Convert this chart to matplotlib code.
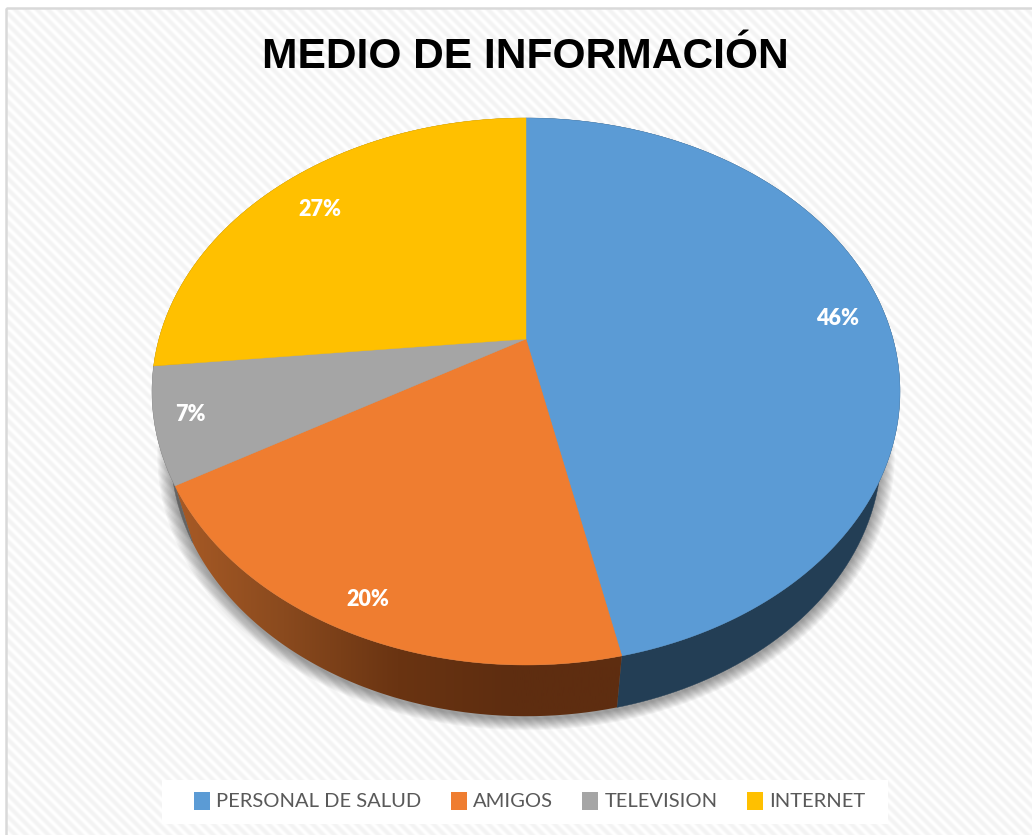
import matplotlib
matplotlib.use("Agg")
import matplotlib.pyplot as plt
from matplotlib.colors import LinearSegmentedColormap
from matplotlib.patches import Patch, Polygon, Rectangle
import numpy as np

categories = ["PERSONAL DE SALUD", "AMIGOS", "TELEVISION", "INTERNET"]
values = [46.6, 20.0, 6.8, 26.6]   # slice sizes as they look in the picture
labels = ["46%", "20%", "7%", "27%"]
colors = ["#5B9BD5", "#EF7D30", "#A5A5A5", "#FFC000"]

W, H = 1032, 835
cx, cy = 526, 339     # where the slices meet
A, S, P = 367, 263.4, 0.192  # tilt of the disc
drop = 61             # bottom rim offset
kx_low, ky_low = 0.95, 0.97
label_radius = [0.87, 0.90, 0.91, 0.84]
label_nudge = [4, 3, -3, 4]


def project(theta, r=1.0, kx=1.0, ky=1.0, dy=0):
    # clockwise from 12 o'clock, with a bit of perspective
    X = r * np.sin(theta)
    Y = r * np.cos(theta)
    w = 1 + P * Y
    return cx + kx * A * X / w, cy + dy - ky * S * Y / w


fig = plt.figure(figsize=(W / 100, H / 100), dpi=100)
ax = fig.add_axes([0, 0, 1, 1])
ax.set_xlim(0, W)
ax.set_ylim(H, 0)
ax.axis("off")

# striped background
yy, xx = np.mgrid[0:H, 0:W]
stripes = 0.5 + 0.5 * np.cos(2 * np.pi * (xx - yy) / 11)
ax.imshow(stripes, cmap=LinearSegmentedColormap.from_list("bg", ["#F3F3F3", "#FFFFFF"]),
          extent=(0, W, H, 0), aspect="auto", zorder=0)
ax.add_patch(Rectangle((0, 0), 6, H, color="white", zorder=0.5))
ax.add_patch(Rectangle((0, 0), W, 8, color="white", zorder=0.5))
ax.add_patch(Rectangle((6, 8), W + 10, H + 10, fill=False, ec="#D9D9D9", lw=1.8, zorder=0.6))

edges = 2 * np.pi * np.cumsum([0] + values) / sum(values)
t_all = np.linspace(0, 2 * np.pi, 400)

# soft shadow under the pie
for grow in np.linspace(14, 0, 12):
    sx, sy = project(t_all, kx=kx_low, ky=ky_low, dy=drop + 3)
    mx, my = sx.mean(), sy.mean()
    f = 1 + grow / 370
    ax.add_patch(Polygon(np.c_[mx + (sx - mx) * f, my + (sy - my) * f], color="#000000",
                         alpha=0.035, lw=0, zorder=1))

# side wall
side_cmap = LinearSegmentedColormap.from_list("side", ["#A95B26", "#8A4A1E", "#6A3412", "#5E2D10", "#5E2D10"])
for i in range(len(values)):
    t = np.linspace(edges[i], edges[i + 1], 200)
    x1, y1 = project(t)
    x2, y2 = project(t, kx=kx_low, ky=ky_low, dy=drop)
    pts = np.r_[np.c_[x1, y1], np.c_[x2, y2][::-1]]
    if i == 1:
        poly = Polygon(pts, fc="none", ec="none", zorder=2)
        ax.add_patch(poly)
        im = ax.imshow(np.linspace(0, 1, 256)[None, :], cmap=side_cmap, vmin=0, vmax=1,
                       extent=(170, 625, H, 0), aspect="auto", zorder=2)
        im.set_clip_path(poly)
    else:
        shade = {0: "#233E55", 2: "#636363", 3: "#997300"}[i]
        ax.add_patch(Polygon(pts, fc=shade, ec=shade, lw=0.3, zorder=2))

# top face
for i in range(len(values)):
    t = np.linspace(edges[i], edges[i + 1], 200)
    x1, y1 = project(t)
    pts = np.r_[[[cx, cy]], np.c_[x1, y1]]
    ax.add_patch(Polygon(pts, fc=colors[i], ec=colors[i], lw=0.3, zorder=3))

    lx, ly = project((edges[i] + edges[i + 1]) / 2, r=label_radius[i])
    ax.text(lx, ly + label_nudge[i], labels[i], color="white", fontsize=15.5, fontweight="heavy",
            family="Lato", ha="center", va="center", zorder=4)

ax.text(525, 57, "MEDIO DE INFORMACIÓN", family="Liberation Sans", fontweight="bold",
        fontsize=30.6, ha="center", va="center", color="black", zorder=4)

# legend strip
ax.add_patch(Rectangle((162, 780), 726, 44, fc="white", ec="none", zorder=4.5))
handles = [Patch(fc=c, ec="none") for c in colors]
leg = ax.legend(handles, categories, ncol=4, loc="center", bbox_to_anchor=(529.5 / W, 1 - 801 / H),
                frameon=False, prop={"family": "Lato", "size": 14.5}, labelcolor="#595959",
                handlelength=0.8, handleheight=1.0, handletextpad=0.3, columnspacing=1.45,
                borderpad=0, borderaxespad=0)
leg.set_zorder(5)

fig.savefig("out.png", dpi=100)
